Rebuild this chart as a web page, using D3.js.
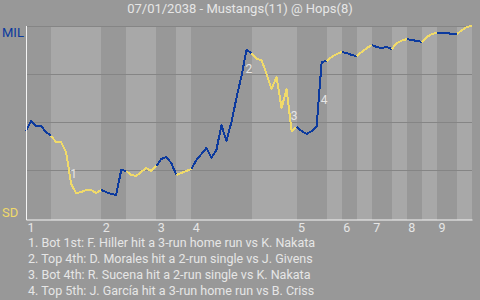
<!DOCTYPE html>
<html>
<head>
<meta charset="utf-8">
<script src="https://cdn.jsdelivr.net/npm/d3@7"></script>
<style>
  html, body { margin: 0; padding: 0; background: #989898; }
  svg { display: block; font-family: Roboto, "Noto Sans", sans-serif; }
</style>
</head>
<body>
<svg id="chart" width="480" height="300"></svg>
<script>
// ---- data ----
const title = "07/01/2038 - Mustangs(11) @ Hops(8)";
const awayTeam = "MIL";
const homeTeam = "SD";
const inningLabels = ["1", "2", "3", "4", "5", "6", "7", "8", "9"];
// plate appearances in each half inning (top 1st, bot 1st, top 2nd, ...)
const halfInningPAs = [5, 10, 5, 6, 4, 3, 12, 9, 6, 3, 3, 3, 4, 3, 3, 3, 4, 3];
// MIL win probability (%) after each plate appearance
const milWinPct = [
  45.3, 50.5, 47.9, 47.9, 44.8, 42.7,
  39.6, 39.6, 34.4, 17.7, 13.0, 13.5, 14.6, 14.6, 13.0, 14.6,
  13.5, 12.5, 12.0, 25.0, 24.5,
  22.4, 21.9, 24.0, 26.0, 24.5, 27.1,
  30.7, 31.8, 28.6, 22.4,
  23.4, 24.5, 25.5,
  30.2, 33.3, 36.5, 31.3, 35.4, 48.4, 40.1, 50.0, 62.5, 74.0, 87.5, 85.9,
  82.8, 82.3, 75.0, 67.2, 73.4, 57.3, 67.2, 45.3, 47.4,
  45.3, 43.8, 45.3, 47.9, 81.3, 81.8,
  83.9, 85.4, 86.5,
  85.9, 84.9, 84.4,
  86.5, 88.5, 90.1,
  89.1, 88.5, 89.1, 88.0,
  91.1, 92.4, 93.2,
  92.7, 92.2, 91.7,
  94.3, 95.8, 96.4,
  96.4, 96.4, 95.8, 95.8,
  97.9, 99.5, 100.0
];
const eventTexts = [
  "1. Bot 1st: F. Hiller hit a 3-run home run vs K. Nakata",
  "2. Top 4th: D. Morales hit a 2-run single vs J. Givens",
  "3. Bot 4th: R. Sucena hit a 2-run single vs K. Nakata",
  "4. Top 5th: J. García hit a 3-run home run vs B. Criss"
];
const eventLabels = ["1", "2", "3", "4"];
// plate appearance index at which each event's segment starts
const eventSegment = [8, 43, 52, 58];

// ---- drawing ----
const svg = d3.select("#chart");
const C = {
  bg: "#989898", dark: "#989898", light: "#a8a8a8", grid: "#858585",
  text: "#e6e6e6", blue: "#0c3a9e", yellow: "#f0da6a", axis: "#f4f4f4"
};
const plotTop = 26, plotBottom = 220, plotLeft = 26, plotRight = 472;

const x = d3.scaleLinear().domain([0, milWinPct.length - 1]).range([plotLeft, plotRight]);
const y = d3.scaleLinear().domain([0, 100]).range([218, plotTop]);

svg.append("rect").attr("width", 480).attr("height", 300).attr("fill", C.bg);

// half-inning boundaries
const bounds = [0];
halfInningPAs.forEach(n => bounds.push(bounds[bounds.length - 1] + n));

svg.append("g").selectAll("rect").data(halfInningPAs).join("rect")
  .attr("x", (d, i) => x(bounds[i]))
  .attr("width", (d, i) => x(bounds[i + 1]) - x(bounds[i]))
  .attr("y", plotTop)
  .attr("height", plotBottom - plotTop)
  .attr("fill", (d, i) => i % 2 === 0 ? C.dark : C.light)
  .attr("shape-rendering", "crispEdges");

// grid lines
svg.append("g").selectAll("line").data([25, 50, 75, 100]).join("line")
  .attr("x1", plotLeft).attr("x2", plotRight)
  .attr("y1", d => Math.round(y(d)) + 0.5).attr("y2", d => Math.round(y(d)) + 0.5)
  .attr("stroke", C.grid).attr("stroke-width", 1);

// win probability line, one path per half inning
const line = d3.line().x(i => x(i)).y(i => y(milWinPct[i]));
svg.append("g").selectAll("path").data(halfInningPAs).join("path")
  .attr("d", (d, h) => line(d3.range(bounds[h], bounds[h + 1] + 1)))
  .attr("fill", "none")
  .attr("stroke", (d, h) => h % 2 === 0 ? C.blue : C.yellow)
  .attr("stroke-width", 2)
  .attr("stroke-linejoin", "round")
  .attr("shape-rendering", "crispEdges");

// event markers
svg.append("g").selectAll("text").data(eventSegment).join("text")
  .attr("x", i => (x(i) + x(i + 1)) / 2 + 5)
  .attr("y", i => (y(milWinPct[i]) + y(milWinPct[i + 1])) / 2 + 6)
  .attr("text-anchor", "middle")
  .attr("dominant-baseline", "central")
  .attr("font-size", 12)
  .attr("fill", C.text)
  .text((d, k) => eventLabels[k]);

// axes
const inningStarts = d3.range(0, bounds.length - 1, 2).map(h => bounds[h]);
const xAxis = d3.axisBottom(x).tickValues(inningStarts)
  .tickFormat((d, i) => inningLabels[i]).tickSize(0).tickPadding(4);
const gx = svg.append("g").attr("transform", `translate(0,${plotBottom - 0.5})`).call(xAxis);
gx.select(".domain").attr("stroke", C.axis).attr("stroke-width", 1);
gx.selectAll("text").attr("text-anchor", "start").attr("dx", 1)
  .attr("fill", C.text).attr("font-size", 12.5).attr("font-family", "Roboto, sans-serif");

svg.append("line")
  .attr("x1", plotLeft + 0.5).attr("x2", plotLeft + 0.5)
  .attr("y1", plotTop).attr("y2", plotBottom)
  .attr("stroke", C.axis).attr("stroke-width", 1);

// team labels
svg.append("text").attr("x", 2).attr("y", 37).attr("font-size", 13)
  .attr("fill", C.blue).text(awayTeam);
svg.append("text").attr("x", 2).attr("y", 217).attr("font-size", 13)
  .attr("fill", C.yellow).text(homeTeam);

// title
svg.append("text").attr("x", 240).attr("y", 13).attr("text-anchor", "middle")
  .attr("font-size", 13).attr("fill", C.text).text(title);

// event list
svg.append("g").selectAll("text").data(eventTexts).join("text")
  .attr("x", 28).attr("y", (d, i) => 246.5 + i * 16)
  .attr("font-size", 12.5).attr("fill", C.text)
  .text(d => d);
</script>
</body>
</html>
